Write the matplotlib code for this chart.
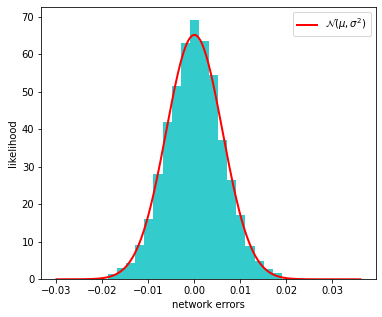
import numpy as np
import matplotlib
matplotlib.use("Agg")
import matplotlib.pyplot as plt

# histogram bin edges and densities
bin_edges = [-0.0189, -0.0169, -0.0149, -0.0129, -0.0109, -0.0089, -0.0069, -0.0049,
             -0.0029, -0.0009, 0.0011, 0.0031, 0.0051, 0.0071, 0.0091, 0.0111,
             0.0131, 0.0151, 0.0171, 0.0191]
densities = [1.4, 3.0, 4.3, 9.1, 16.1, 28.1, 42.0, 51.5, 63.1, 69.1,
             63.5, 54.5, 37.1, 26.5, 17.1, 9.0, 5.0, 2.8, 1.6]

# fitted normal parameters and curve range
mu = 0.0
sigma = 0.00612
x_min, x_max = -0.0300, 0.03615

fig = plt.figure(figsize=(382/72, 317/72), dpi=72)
ax = fig.add_axes([41.3/382, (317-279.3)/317, (375.7-41.3)/382, (279.3-7.3)/317])

edges = np.array(bin_edges)
ax.bar(edges[:-1], densities, width=np.diff(edges), align='edge', color='c', alpha=0.8)

xs = np.linspace(x_min, x_max, 500)
pdf = np.exp(-(xs - mu) ** 2 / (2 * sigma ** 2)) / (sigma * np.sqrt(2 * np.pi))
ax.plot(xs, pdf, color='red', lw=2, label=r'$\mathcal{N}(\mu,\sigma^2)$')

ax.set_xlabel('network errors')
ax.set_ylabel('likelihood')
ax.legend(loc='upper right')

fig.savefig('out.png', dpi=72)
